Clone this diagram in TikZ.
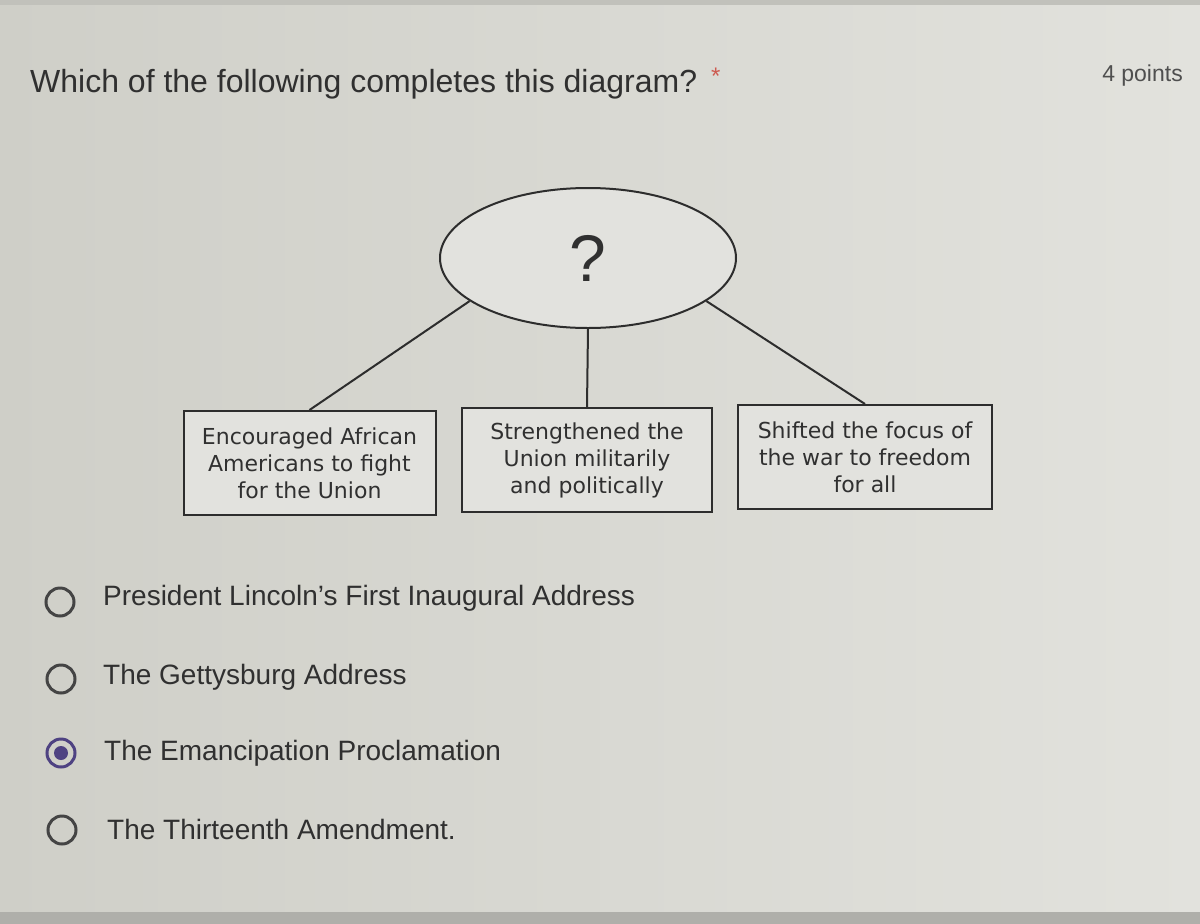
\documentclass[tikz,border=0pt]{standalone}
\usepackage{fontspec}
\setmainfont{Liberation Sans}
\newfontfamily\boxfont{DejaVu Sans}
\usetikzlibrary{shapes.geometric}
\definecolor{bg}{RGB}{219,219,213}
\definecolor{bgl}{RGB}{207,207,200}
\definecolor{bgr}{RGB}{226,226,221}
\definecolor{ink}{RGB}{48,48,48}
\definecolor{lineink}{RGB}{45,45,45}
\definecolor{radioink}{RGB}{68,68,68}
\definecolor{sel}{RGB}{78,66,130}
\definecolor{star}{RGB}{205,90,80}
\definecolor{boxfill}{RGB}{226,226,222}
\tikzset{
  infobox/.style={draw=lineink, line width=2pt, fill=boxfill, minimum width=252pt, minimum height=104pt,
    align=center, text=ink, font=\boxfont\fontsize{22}{27}\selectfont, inner sep=0pt},
  link/.style={draw=lineink, line width=2pt},
  radio/.style={circle, draw=radioink, line width=3pt, minimum size=28pt, inner sep=0pt},
  choice/.style={anchor=west, text=ink, font=\fontsize{28}{32}\selectfont, inner sep=0pt},
}
\begin{document}
\begin{tikzpicture}[x=1pt,y=-1pt]
\useasboundingbox (0,0) rectangle (1200,924);
\shade[left color=bgl, right color=bgr] (0,0) rectangle (1200,924);
\fill[bg!88!black] (0,0) rectangle (1200,5);
\fill[bg!80!black] (0,912) rectangle (1200,924);
\node[anchor=base west, text=ink, font=\fontsize{32}{36}\selectfont, inner sep=0pt] (title) at (30,92) {Which of the following completes this diagram?};
\node[anchor=base west, text=star, font=\fontsize{24}{28}\selectfont, inner sep=0pt] (ast) at (711,84) {*};
\node[anchor=base east, text=ink!85, font=\fontsize{23}{27}\selectfont, inner sep=0pt] (pts) at (1183,81) {4 points};
\node[ellipse, draw=lineink, line width=2pt, fill=boxfill, minimum width=296pt, minimum height=140pt, inner sep=0pt,
  text=ink, font=\fontsize{66}{70}\selectfont] (q) at (588,258) {?};
\node[infobox] (b1) at (309.5,463) {Encouraged African\\Americans to fight\\for the Union};
\node[infobox, minimum width=250pt] (b2) at (587,460) {Strengthened the\\Union militarily\\and politically};
\node[infobox, minimum width=254pt] (b3) at (865,457) {Shifted the focus of\\the war to freedom\\for all};
\draw[link] (q.200) -- (b1.north);
\draw[link] (q.south) -- (b2.north);
\draw[link] (q.340) -- (b3.north);
\node[radio] (r1) at (60,602) {};
\node[choice] (c1) at (103,598) {President Lincoln’s First Inaugural Address};
\node[radio] (r2) at (61,679) {};
\node[choice] (c2) at (103,677) {The Gettysburg Address};
\node[radio, draw=sel] (r3) at (61,753) {};
\node[circle, fill=sel, minimum size=14pt, inner sep=0pt] (r3dot) at (r3) {};
\node[choice] (c3) at (104,753) {The Emancipation Proclamation};
\node[radio] (r4) at (62,830) {};
\node[choice] (c4) at (107,829) {The Thirteenth Amendment.};
\end{tikzpicture}
\end{document}
